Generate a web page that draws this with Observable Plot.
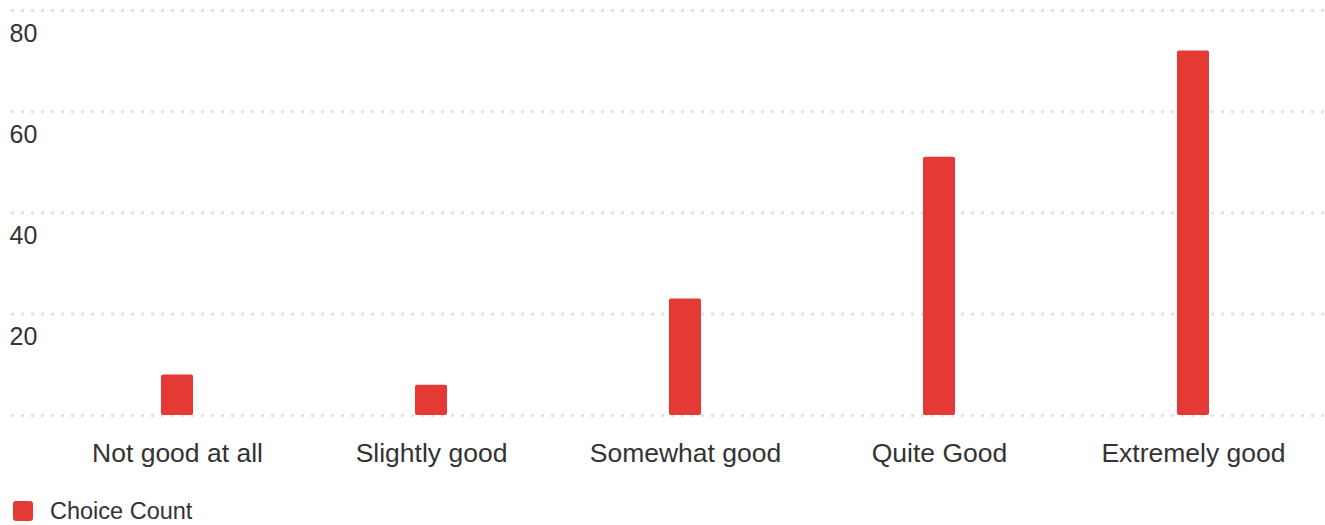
<!DOCTYPE html>
<html>
<head>
<meta charset="utf-8">
<script src="https://cdn.jsdelivr.net/npm/d3@7"></script>
<script src="https://cdn.jsdelivr.net/npm/@observablehq/plot@0.6"></script>
<style>
  html, body { margin: 0; padding: 0; background: #fff; }
  body { font-family: "Liberation Sans", Arial, Helvetica, sans-serif; color: #333; }
  #legend { display: flex; align-items: center; height: 36px; padding-left: 13px; padding-top: 3px; font-size: 23.5px; color: #333; }
  #legend .sw { width: 20px; height: 20px; border-radius: 3px; background: #e53935; margin-right: 17px; }
</style>
</head>
<body>
<div id="chart"></div>
<div id="legend"><span class="sw"></span><span>Choice Count</span></div>
<script>
const categories = ["Not good at all", "Slightly good", "Somewhat good", "Quite Good", "Extremely good"];
const counts = [8, 6, 23, 51, 72];
const yTicks = [0, 20, 40, 60, 80];
const yLabels = [20, 40, 60, 80];
const seriesName = "Choice Count";

const data = categories.map((c, i) => ({category: c, count: counts[i]}));

const chart = Plot.plot({
  width: 1325,
  height: 490,
  marginLeft: 11,
  marginRight: 0,
  marginTop: 10,
  marginBottom: 75,
  style: {fontFamily: '"Liberation Sans", Arial, Helvetica, sans-serif', color: "#333", background: "#fff"},
  x: {domain: categories, range: [50, 1320], padding: 0, axis: null},
  y: {domain: [0, 80], axis: null},
  marks: [
    Plot.ruleY(yTicks, {stroke: "#e2e2e2", strokeWidth: 3, strokeDasharray: "3,7"}),
    Plot.text(yLabels, {y: d => d, text: d => String(d), frameAnchor: "left", textAnchor: "start", lineAnchor: "middle", dx: -2, dy: 23, fontSize: 25, fill: "#333"}),
    Plot.barY(data, {x: "category", y: "count", fill: "#e53935", insetLeft: 111, insetRight: 111, rx: 2, title: d => `${seriesName}: ${d.count}`}),
    Plot.text(data, {x: "category", text: "category", frameAnchor: "bottom", lineAnchor: "middle", dy: 38, fontSize: 26.5, fill: "#333"})
  ]
});
document.getElementById("chart").appendChild(chart);
</script>
</body>
</html>
